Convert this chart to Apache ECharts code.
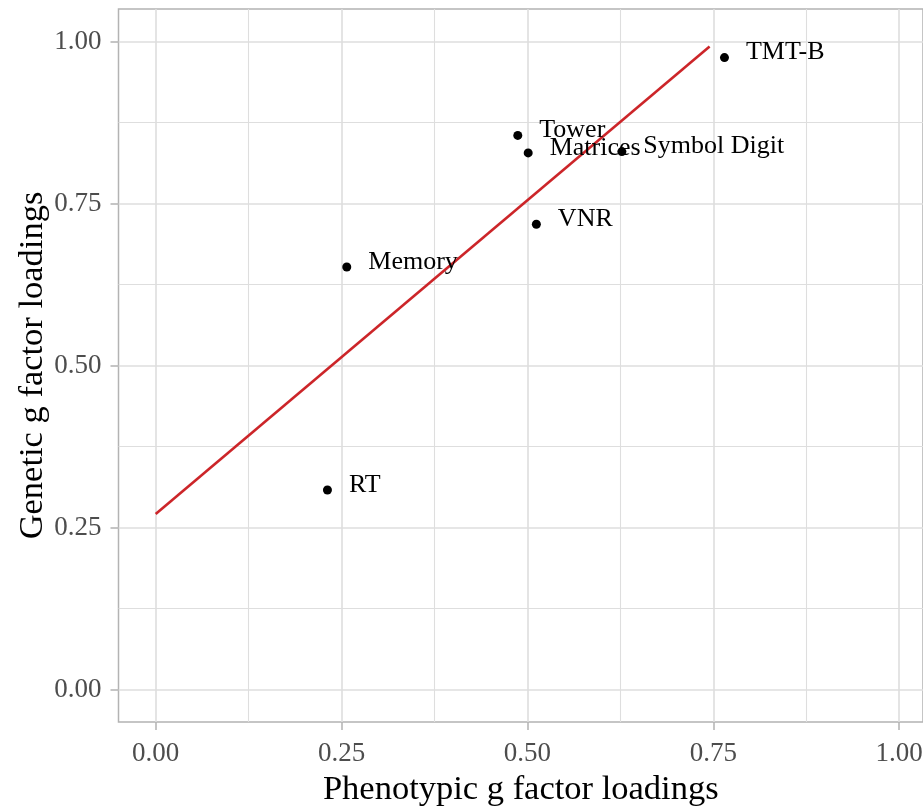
<!DOCTYPE html>
<html>
<head>
<meta charset="utf-8">
<script src="https://cdn.jsdelivr.net/npm/echarts@6/dist/echarts.min.js"></script>
<style>html,body{margin:0;padding:0;background:#fff}#c{width:923px;height:808px}</style>
</head>
<body>
<div id="c"></div>
<script>
// Data
const labels = ['TMT-B', 'Tower', 'Matrices', 'Symbol Digit', 'VNR', 'Memory', 'RT'];
const phenotypic = [0.765, 0.487, 0.501, 0.627, 0.512, 0.257, 0.231];
const genetic = [0.975, 0.855, 0.828, 0.830, 0.718, 0.652, 0.308];
const fitLine = [[0, 0.271], [0.745, 0.992]];
const majorTicks = [0, 0.25, 0.5, 0.75, 1];
const minorTicks = [0.125, 0.375, 0.625, 0.875];

const FONT = 'Liberation Serif';
const GRID = '#dedede';
const chart = echarts.init(document.getElementById('c'), null, {renderer: 'canvas'});

function majorAxis(extra) {
  return Object.assign({
    type: 'value',
    min: -0.05,
    max: 1.05,
    axisLine: {show: false, onZero: false},
    splitLine: {show: true, lineStyle: {color: GRID, width: 1.6}},
    axisTick: {show: true, customValues: majorTicks, length: 8, lineStyle: {color: '#b3b3b3', width: 1.5}},
    nameLocation: 'middle',
    nameMoveOverlap: false,
    nameTextStyle: {color: '#000', fontFamily: FONT, fontSize: 34.5}
  }, extra);
}
function minorAxis(extra) {
  return Object.assign({
    type: 'value',
    min: -0.05,
    max: 1.05,
    axisLine: {show: false, onZero: false},
    axisLabel: {show: false},
    splitLine: {show: true, lineStyle: {color: GRID, width: 1.1}},
    axisTick: {show: false, customValues: minorTicks}
  }, extra);
}
const labelStyle = {customValues: majorTicks, formatter: v => v.toFixed(2), color: '#4d4d4d', fontFamily: FONT, fontSize: 27};

chart.setOption({
  animation: false,
  backgroundColor: '#fff',
  grid: {left: 118.5, right: 0, top: 9, bottom: 86, outerBoundsMode: 'none', containLabel: false,
    show: true, borderColor: '#b3b3b3', borderWidth: 1.5, backgroundColor: 'transparent'},
  xAxis: [
    majorAxis({max: 1.032, name: 'Phenotypic g factor loadings', nameGap: 50,
      axisLabel: Object.assign({}, labelStyle, {margin: 18})}),
    minorAxis({max: 1.032})
  ],
  yAxis: [
    majorAxis({name: 'Genetic g factor loadings', nameGap: 68,
      axisLabel: Object.assign({}, labelStyle, {margin: 17})}),
    minorAxis({})
  ],
  series: [
    {
      type: 'line', data: fitLine, z: 3, symbol: 'none', silent: true,
      lineStyle: {color: '#cc2529', width: 2.6}
    },
    {
      type: 'scatter', z: 4, symbolSize: 9, silent: true,
      itemStyle: {color: '#000', opacity: 1},
      data: phenotypic.map((x, i) => [x, genetic[i], labels[i]]),
      label: {show: true, position: 'right', distance: 17, offset: [0, -5],
        formatter: p => p.data[2], color: '#000', fontFamily: FONT, fontSize: 26}
    }
  ]
});
</script>
</body>
</html>
